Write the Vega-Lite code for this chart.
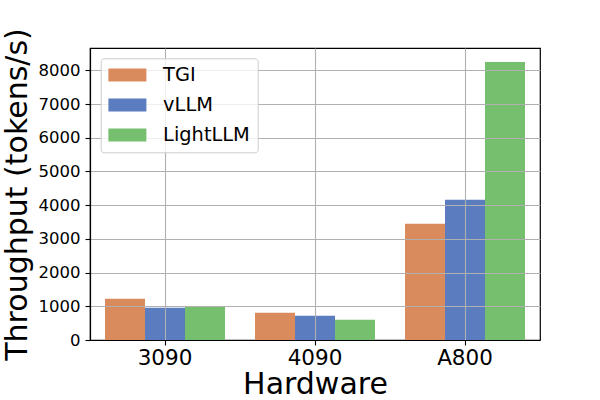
{
  "$schema": "https://vega.github.io/schema/vega-lite/v6.json",
  "width": 450,
  "height": 292,
  "autosize": {"type": "none"},
  "padding": {"left": 90, "top": 48, "right": 60, "bottom": 60},
  "background": "white",
  "config": {
    "font": "DejaVu Sans",
    "view": {"stroke": "black", "strokeWidth": 1.2}
  },
  "data": {
    "values": [
      {"hardware": "3090", "framework": "TGI", "throughput": 1220},
      {"hardware": "3090", "framework": "vLLM", "throughput": 960},
      {"hardware": "3090", "framework": "LightLLM", "throughput": 995},
      {"hardware": "4090", "framework": "TGI", "throughput": 810},
      {"hardware": "4090", "framework": "vLLM", "throughput": 720},
      {"hardware": "4090", "framework": "LightLLM", "throughput": 600},
      {"hardware": "A800", "framework": "TGI", "throughput": 3450},
      {"hardware": "A800", "framework": "vLLM", "throughput": 4160},
      {"hardware": "A800", "framework": "LightLLM", "throughput": 8250}
    ]
  },
  "mark": {"type": "bar", "opacity": 1},
  "encoding": {
    "x": {
      "field": "hardware",
      "type": "nominal",
      "sort": ["3090", "4090", "A800"],
      "scale": {"paddingInner": 0.2, "paddingOuter": 0.1},
      "axis": {
        "title": "Hardware",
        "titleFontSize": 30,
        "titleFontWeight": "normal",
        "titleColor": "black",
        "titleBaseline": "alphabetic",
        "titleY": 53,
        "labelAngle": 0,
        "labelFontSize": 21.5,
        "labelColor": "black",
        "labelPadding": 2,
        "tickSize": 5,
        "tickColor": "black",
        "tickWidth": 1.1,
        "domainColor": "black",
        "domainWidth": 1.2,
        "grid": true,
        "gridColor": "#b0b0b0",
        "gridWidth": 1.1,
        "zindex": 1
      }
    },
    "xOffset": {
      "field": "framework",
      "type": "nominal",
      "sort": ["TGI", "vLLM", "LightLLM"],
      "scale": {"paddingInner": 0, "paddingOuter": 0}
    },
    "y": {
      "field": "throughput",
      "type": "quantitative",
      "scale": {"domain": [0, 8662], "nice": false, "zero": true},
      "axis": {
        "title": "Throughput (tokens/s)",
        "titleFontSize": 30,
        "titleFontWeight": "normal",
        "titleColor": "black",
        "titleX": -58,
        "titleY": 146,
        "values": [0, 1000, 2000, 3000, 4000, 5000, 6000, 7000, 8000],
        "format": "d",
        "labelFontSize": 16.5,
        "labelColor": "black",
        "labelPadding": 5,
        "tickSize": 5,
        "tickColor": "black",
        "tickWidth": 1.1,
        "domainColor": "black",
        "domainWidth": 1.2,
        "grid": true,
        "gridColor": "#b0b0b0",
        "gridWidth": 1.1,
        "zindex": 1
      }
    },
    "color": {
      "field": "framework",
      "type": "nominal",
      "scale": {
        "domain": ["TGI", "vLLM", "LightLLM"],
        "range": ["#d98b5e", "#5b7cbf", "#75bf6f"]
      },
      "legend": {
        "title": null,
        "orient": "none",
        "legendX": 10.7,
        "legendY": 10.3,
        "symbolType": "M-1.385,-1 L4.46,-1 L4.46,1 L-1.385,1 Z",
        "symbolSize": 169,
        "symbolStrokeWidth": 0,
        "symbolOpacity": 1,
        "fillColor": "rgba(255,255,255,0.8)",
        "strokeColor": "#cccccc",
        "cornerRadius": 3,
        "padding": 7,
        "labelFontSize": 19.4,
        "labelColor": "black",
        "labelOffset": 36,
        "rowPadding": 9,
        "zindex": 2
      }
    }
  }
}
